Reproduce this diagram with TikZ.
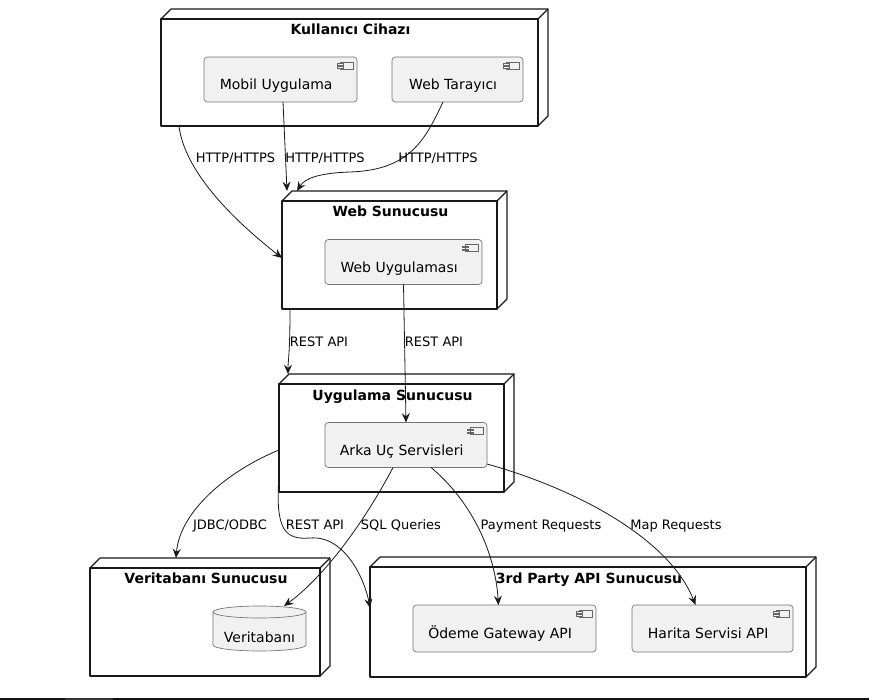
\documentclass[tikz,border=0pt]{standalone}
\usepackage{fontspec}
\setmainfont{DejaVu Sans}
\usetikzlibrary{calc,arrows.meta}

% 3D top and side faces of a server node
\newcommand{\nodedepth}[1]{%
  \draw[nodeline] (#1.north west) -- ++(10,-10) -- ($(#1.north east)+(10,-10)$) -- ($(#1.south east)+(10,-10)$) -- (#1.south east);
  \draw[nodeline] (#1.north east) -- ++(10,-10);
}
% small component icon in the top right corner
\newcommand{\compicon}[1]{%
  \draw[iconline] ($(#1.north east)+(-17,5)$) rectangle ($(#1.north east)+(-4,12)$);
  \draw[iconline] ($(#1.north east)+(-20,6.5)$) rectangle ($(#1.north east)+(-14,8.2)$);
  \draw[iconline] ($(#1.north east)+(-20,9.3)$) rectangle ($(#1.north east)+(-14,11)$);
}

\begin{document}
\begin{tikzpicture}[x=0.75pt, y=-0.75pt,
  nodeline/.style={draw=black!90, line width=0.9pt, line join=round},
  servernode/.style={nodeline, fill=white, inner sep=0pt, outer sep=0pt},
  nodetitle/.style={anchor=base, font=\fontsize{10.5}{12}\selectfont\bfseries},
  compbox/.style={draw=black!55, line width=0.5pt, fill=black!5.5, rounded corners=2.5pt,
    inner sep=0pt, outer sep=0pt, minimum height=33.75pt, text height=17.5pt, text depth=2pt,
    font=\fontsize{10.5}{12}\selectfont, execute at end node=\kern6.5pt},
  iconline/.style={draw=black!60, line width=0.45pt, fill=black!5.5},
  link/.style={-{Stealth[length=7pt,width=6pt,inset=2.5pt]}, line width=0.6pt, draw=black!90},
  linklabel/.style={anchor=base, font=\fontsize{9.75}{11}\selectfont}]
  \useasboundingbox (0,0) rectangle (869,700);

  % Server nodes
  \node[servernode, minimum width=282.75pt, minimum height=80.25pt] (kc) at (349.5,72.5) {};
  \node[servernode, minimum width=161.25pt, minimum height=81pt] (ws) at (389.5,255) {};
  \node[servernode, minimum width=168.75pt, minimum height=81pt] (uas) at (391.5,438) {};
  \node[servernode, minimum width=172.5pt, minimum height=81pt] (vs) at (205,622) {};
  \node[servernode, minimum width=327pt, minimum height=82.5pt] (tp) at (588,622) {};
  \foreach \n in {kc,ws,uas,vs,tp} {\nodedepth{\n}}

  % Titles
  \node[nodetitle] (kc-title) at ($(kc.north)+(1,15)$) {Kullanıcı Cihazı};
  \node[nodetitle] (ws-title) at ($(ws.north)+(1,15.5)$) {Web Sunucusu};
  \node[nodetitle] (uas-title) at ($(uas.north)+(1,16)$) {Uygulama Sunucusu};
  \node[nodetitle] (vs-title) at ($(vs.north)+(1,15.5)$) {Veritabanı Sunucusu};
  \node[nodetitle] (tp-title) at ($(tp.north)+(1,16.5)$) {3rd Party API Sunucusu};

  % Components
  \node[compbox, minimum width=114.75pt] (mob) at (280.5,79.5) {Mobil Uygulama};
  \node[compbox, minimum width=98.25pt] (wt) at (457.5,79.5) {Web Tarayıcı};
  \node[compbox, minimum width=117.75pt] (wu) at (403.5,262) {Web Uygulaması};
  \node[compbox, minimum width=121.5pt] (arka) at (406,445) {Arka Uç Servisleri};
  \node[compbox, minimum width=137.25pt, minimum height=35.25pt] (ode) at (504.5,628.5) {Ödeme Gateway API};
  \node[compbox, minimum width=120.75pt, minimum height=35.25pt] (har) at (712.5,628.5) {Harita Servisi API};
  \foreach \n in {mob,wt,wu,arka,ode,har} {\compicon{\n}}

  % Database
  \coordinate (db) at (259.5,628.5);
  \draw[draw=black!55, line width=0.5pt, fill=black!5.5] ($(db)+(-46.5,-16.5)$) -- ($(db)+(-46.5,16.5)$)
    arc[start angle=180, end angle=0, x radius=46.5, y radius=6] -- ($(db)+(46.5,-16.5)$)
    arc[start angle=0, end angle=-180, x radius=46.5, y radius=6] -- cycle;
  \draw[draw=black!55, line width=0.5pt] ($(db)+(-46.5,-16.5)$) arc[start angle=180, end angle=0, x radius=46.5, y radius=6];
  \node[font=\fontsize{10.5}{12}\selectfont] (db-text) at ($(db)+(0,8.5)$) {Veritabanı};

  % Connections
  \draw[link] ($(kc.south west)+(18,0)$) .. controls (185,175) and (240,225) .. ($(ws.west)+(0,3)$);
  \draw[link] ($(mob.south)+(2.5,0)$) -- ($(ws.north west)+(5,-10)$);
  \draw[link] ($(wt.south)+(-14.5,0)$) .. controls (425,140) and (410,170) .. (350,172)
    .. controls (320,173) and (305,178) .. ($(ws.north west)+(15,-10)$);
  \draw[link] ($(ws.south west)+(8,0)$) .. controls (290,355) and (288,360) .. ($(uas.north west)+(9,-10)$);
  \draw[link] (wu.south) -- (arka.north);
  \draw[link] ($(uas.west)+(0,12)$) .. controls (230,470) and (180,510) .. ($(vs.north west)+(86,-10)$);
  \draw[link] ($(uas.west)+(0,38)$) .. controls (275,530) and (285,540) .. (310,538)
    .. controls (345,535) and (365,580) .. ($(tp.west)+(0,-14)$);
  \draw[link] ($(arka.south)+(-13,0)$) .. controls (360,530) and (320,580) .. ($(db)+(24.5,-22.5)$);
  \draw[link] ($(arka.south)+(25,0)$) .. controls (470,500) and (495,550) .. ($(ode.north)+(-6,0)$);
  \draw[link] ($(arka.east)+(0,19)$) .. controls (580,490) and (670,540) .. ($(har.north)+(-17,0)$);

  % Labels
  \node[linklabel] (l-http1) at (235.5,162.5) {HTTP/HTTPS};
  \node[linklabel] (l-http2) at (325,162.5) {HTTP/HTTPS};
  \node[linklabel] (l-http3) at (438,162.5) {HTTP/HTTPS};
  \node[linklabel] (l-rest1) at (319,346.5) {REST API};
  \node[linklabel] (l-rest2) at (434,346.5) {REST API};
  \node[linklabel] (l-jdbc) at (230,529.5) {JDBC/ODBC};
  \node[linklabel] (l-rest3) at (315,529.5) {REST API};
  \node[linklabel] (l-sql) at (401,529.5) {SQL Queries};
  \node[linklabel] (l-pay) at (541,529.5) {Payment Requests};
  \node[linklabel] (l-map) at (676,529.5) {Map Requests};

  % bottom strip
  \fill[black!93] (0,697.5) rectangle (869,700);
  \fill[black!80] (65,697.5) rectangle (113,700);
\end{tikzpicture}
\end{document}
